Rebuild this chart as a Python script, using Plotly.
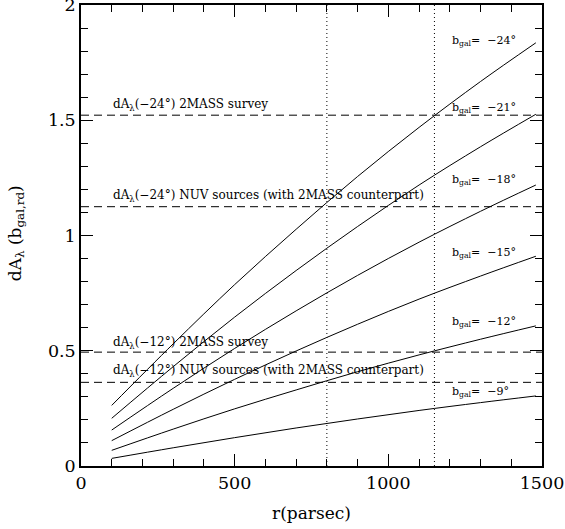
import plotly.graph_objects as go

# distance samples (parsec)
r_pc = [100, 300, 500, 700, 900, 1100, 1300, 1480]

# dA_lambda curves for each galactic latitude
b_gal = [-24, -21, -18, -15, -12, -9]
dA_m24 = [0.263, 0.530, 0.787, 1.027, 1.256, 1.469, 1.668, 1.836]
dA_m21 = [0.207, 0.431, 0.646, 0.848, 1.039, 1.219, 1.385, 1.526]
dA_m18 = [0.156, 0.337, 0.510, 0.673, 0.827, 0.971, 1.105, 1.219]
dA_m15 = [0.110, 0.246, 0.376, 0.499, 0.615, 0.724, 0.824, 0.910]
dA_m12 = [0.068, 0.160, 0.248, 0.330, 0.409, 0.482, 0.550, 0.608]
dA_m09 = [0.033, 0.079, 0.123, 0.165, 0.204, 0.241, 0.275, 0.304]
curves = [dA_m24, dA_m21, dA_m18, dA_m15, dA_m12, dA_m09]
curve_label_y = [1.845, 1.553, 1.240, 0.923, 0.625, 0.321]

# horizontal reference levels
ref_levels = [1.522, 1.125, 0.494, 0.363]
ref_texts = [
    "dA<sub>λ</sub>(−24°) 2MASS survey",
    "dA<sub>λ</sub>(−24°) NUV sources (with 2MASS counterpart)",
    "dA<sub>λ</sub>(−12°) 2MASS survey",
    "dA<sub>λ</sub>(−12°) NUV sources (with 2MASS counterpart)",
]
ref_text_y = [1.566, 1.170, 0.532, 0.412]

# vertical distance markers
r_marks = [800, 1150]

x_ticks = [0, 500, 1000, 1500]
x_ticklabels = ["0", "500", "1000", "1500"]
y_ticks = [0, 0.5, 1, 1.5, 2]
y_ticklabels = ["0", "0.5", "1", "1.5", "2"]

FONT = "DejaVu Serif"

fig = go.Figure()

for ys in curves:
    fig.add_trace(go.Scatter(x=r_pc, y=ys, mode="lines", line=dict(color="black", width=1, shape="spline"),
                             showlegend=False, hoverinfo="skip"))

for lv in ref_levels:
    fig.add_trace(go.Scatter(x=[0, 1500], y=[lv, lv], mode="lines",
                             line=dict(color="black", width=1, dash="8px,5px"),
                             showlegend=False, hoverinfo="skip"))

for rm in r_marks:
    fig.add_trace(go.Scatter(x=[rm, rm], y=[0, 2], mode="lines",
                             line=dict(color="black", width=1, dash="1px,3px"),
                             showlegend=False, hoverinfo="skip"))

for b, yl in zip(b_gal, curve_label_y):
    fig.add_annotation(x=1200, y=yl, xref="x", yref="y", xanchor="left", yanchor="middle",
                       text=f"b<sub>gal</sub>=  −{abs(b)}°", showarrow=False,
                       font=dict(family=FONT, size=11, color="black"))

for t, yl in zip(ref_texts, ref_text_y):
    fig.add_annotation(x=98, y=yl, xref="x", yref="y", xanchor="left", yanchor="middle",
                       text=t, showarrow=False,
                       font=dict(family=FONT, size=12, color="black"))

# y-axis title as rotated text placed in the left margin
fig.add_annotation(x=0, y=0.505, xref="paper", yref="paper", xshift=-65, xanchor="center", yanchor="middle",
                   textangle=-90, text="dA<sub>λ</sub> (b<sub>gal,rd</sub>)", showarrow=False,
                   font=dict(family=FONT, size=17, color="black"))

axis_common = dict(
    showgrid=False, zeroline=False, showline=True, linecolor="black", linewidth=1.5,
    mirror="allticks", ticks="inside", ticklen=12, tickwidth=1, tickcolor="black",
    tickfont=dict(family=FONT, size=17.5, color="black"),
    automargin=False, ticklabeloverflow="allow",
)

fig.update_xaxes(range=[0, 1500], tickvals=x_ticks, ticktext=x_ticklabels,
                 minor=dict(dtick=100, ticks="inside", ticklen=7, tickcolor="black", tickwidth=1, showgrid=False),
                 title=dict(text="r(parsec)", font=dict(family=FONT, size=17, color="black")),
                 **axis_common)
fig.update_yaxes(range=[0, 2], tickvals=y_ticks, ticktext=y_ticklabels,
                 minor=dict(dtick=0.1, ticks="inside", ticklen=7, tickcolor="black", tickwidth=1, showgrid=False),
                 **axis_common)

fig.update_layout(
    width=565, height=529,
    margin=dict(l=81, r=23, t=5, b=63),
    paper_bgcolor="white", plot_bgcolor="white",
    showlegend=False,
)

fig.write_html("out.html", config={"displayModeBar": False},
               post_script="document.body.style.margin='0';document.body.style.overflow='hidden';")
